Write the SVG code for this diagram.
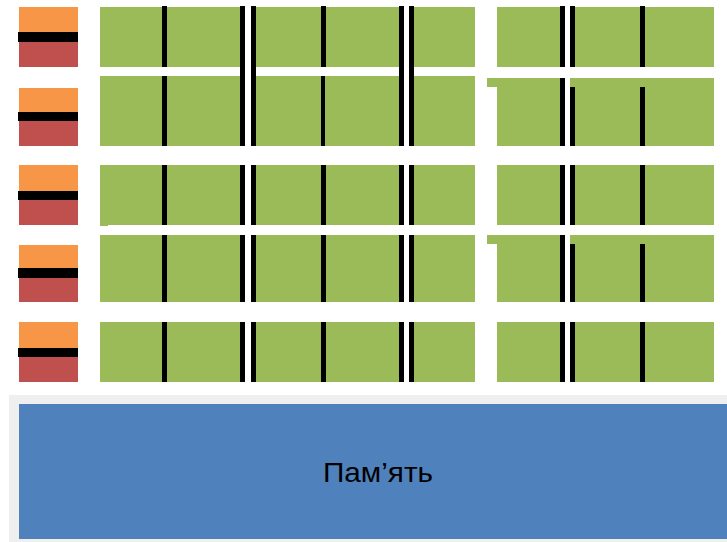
<svg xmlns="http://www.w3.org/2000/svg" width="727" height="542" viewBox="0 0 727 542">
<style>
.o{fill:#F79646}.r{fill:#C0504D}.k{fill:#000000}.g{fill:#9BBB59}
.t{font-family:"Liberation Sans",Arial,sans-serif;font-size:28px;fill:#000}
</style>
<rect width="727" height="542" fill="#ffffff"/>
<g id="control1"><rect class="o" x="19" y="7" width="59" height="25"/><rect class="r" x="19" y="42" width="59" height="25"/><rect class="k" x="18" y="32" width="60" height="10"/></g>
<g id="control2"><rect class="o" x="19" y="88" width="59" height="24"/><rect class="r" x="19" y="121" width="59" height="25"/><rect class="k" x="18" y="112" width="60" height="9"/></g>
<g id="control3"><rect class="o" x="19" y="165" width="59" height="26"/><rect class="r" x="19" y="200" width="59" height="25"/><rect class="k" x="18" y="191" width="60" height="9"/></g>
<g id="control4"><rect class="o" x="19" y="245" width="59" height="23"/><rect class="r" x="19" y="278" width="59" height="24"/><rect class="k" x="18" y="268" width="60" height="10"/></g>
<g id="control5"><rect class="o" x="19" y="322" width="59" height="26"/><rect class="r" x="19" y="357" width="59" height="25"/><rect class="k" x="18" y="348" width="60" height="9"/></g>

<g id="cores1">
<rect class="g" x="100" y="7" width="140" height="60"/><rect class="g" x="256" y="7" width="143" height="60"/><rect class="g" x="414" y="7" width="61" height="60"/>
<rect class="g" x="497" y="7" width="63" height="60"/><rect class="g" x="575" y="7" width="139" height="60"/>
<rect class="k" x="162" y="6" width="5" height="61"/><rect class="k" x="321" y="6" width="5" height="61"/>
<rect class="k" x="560" y="6" width="5" height="61"/><rect class="k" x="570" y="6" width="5" height="61"/><rect class="k" x="640" y="6" width="5" height="61"/>
</g>
<g id="cores2">
<rect class="g" x="100" y="76" width="140" height="70"/><rect class="g" x="256" y="76" width="143" height="70"/><rect class="g" x="414" y="76" width="61" height="70"/>
<rect class="g" x="487" y="78" width="73" height="9"/><rect class="g" x="497" y="87" width="63" height="59"/><rect class="g" x="570" y="78" width="144" height="68"/>
<rect class="k" x="162" y="76" width="5" height="70"/><rect class="k" x="321" y="76" width="4" height="70"/>
<rect class="k" x="560" y="78" width="5" height="68"/><rect class="k" x="570" y="87" width="5" height="59"/><rect class="k" x="640" y="87" width="5" height="59"/>
</g>
<g id="cores3">
<rect class="g" x="100" y="165" width="140" height="60"/><rect class="g" x="100" y="225" width="8" height="1"/><rect class="g" x="256" y="165" width="143" height="60"/><rect class="g" x="414" y="165" width="61" height="60"/>
<rect class="g" x="497" y="165" width="63" height="60"/><rect class="g" x="575" y="165" width="139" height="60"/>
<rect class="k" x="162" y="165" width="5" height="60"/><rect class="k" x="240" y="165" width="5" height="60"/><rect class="k" x="251" y="165" width="5" height="60"/>
<rect class="k" x="321" y="165" width="5" height="60"/><rect class="k" x="399" y="165" width="5" height="60"/><rect class="k" x="409" y="165" width="5" height="60"/>
<rect class="k" x="560" y="165" width="5" height="60"/><rect class="k" x="570" y="165" width="5" height="60"/><rect class="k" x="640" y="165" width="5" height="60"/>
</g>
<g id="cores4">
<rect class="g" x="100" y="235" width="140" height="67"/><rect class="g" x="256" y="235" width="143" height="67"/><rect class="g" x="414" y="235" width="61" height="67"/>
<rect class="g" x="487" y="235" width="73" height="9"/><rect class="g" x="497" y="244" width="63" height="58"/><rect class="g" x="570" y="235" width="144" height="67"/>
<rect class="k" x="162" y="235" width="5" height="67"/><rect class="k" x="240" y="235" width="5" height="67"/><rect class="k" x="251" y="235" width="5" height="67"/>
<rect class="k" x="321" y="235" width="5" height="67"/><rect class="k" x="399" y="235" width="5" height="67"/><rect class="k" x="409" y="235" width="5" height="67"/>
<rect class="k" x="560" y="235" width="5" height="67"/><rect class="k" x="570" y="244" width="5" height="58"/><rect class="k" x="640" y="244" width="5" height="58"/>
</g>
<g id="cores5">
<rect class="g" x="100" y="322" width="140" height="60"/><rect class="g" x="256" y="322" width="143" height="60"/><rect class="g" x="414" y="322" width="61" height="60"/>
<rect class="g" x="497" y="322" width="63" height="60"/><rect class="g" x="575" y="322" width="139" height="60"/>
<rect class="k" x="162" y="322" width="5" height="60"/><rect class="k" x="240" y="322" width="5" height="60"/><rect class="k" x="251" y="322" width="5" height="60"/>
<rect class="k" x="321" y="322" width="5" height="60"/><rect class="k" x="399" y="322" width="5" height="60"/><rect class="k" x="409" y="322" width="5" height="60"/>
<rect class="k" x="560" y="322" width="5" height="60"/><rect class="k" x="570" y="322" width="5" height="60"/><rect class="k" x="640" y="322" width="5" height="60"/>
</g>
<g id="connectors">
<rect class="k" x="240" y="6" width="5" height="140"/><rect class="k" x="251" y="6" width="5" height="140"/>
<rect class="k" x="399" y="6" width="5" height="140"/><rect class="k" x="409" y="6" width="5" height="140"/>
</g>
<g id="memory">
<rect x="9" y="395" width="718" height="147" fill="#EFEFEF"/>
<rect x="19" y="404" width="708" height="135" fill="#4F81BD"/>
<text class="t" x="378" y="482" text-anchor="middle" textLength="110" lengthAdjust="spacingAndGlyphs">Пам’ять</text>
</g>
</svg>
